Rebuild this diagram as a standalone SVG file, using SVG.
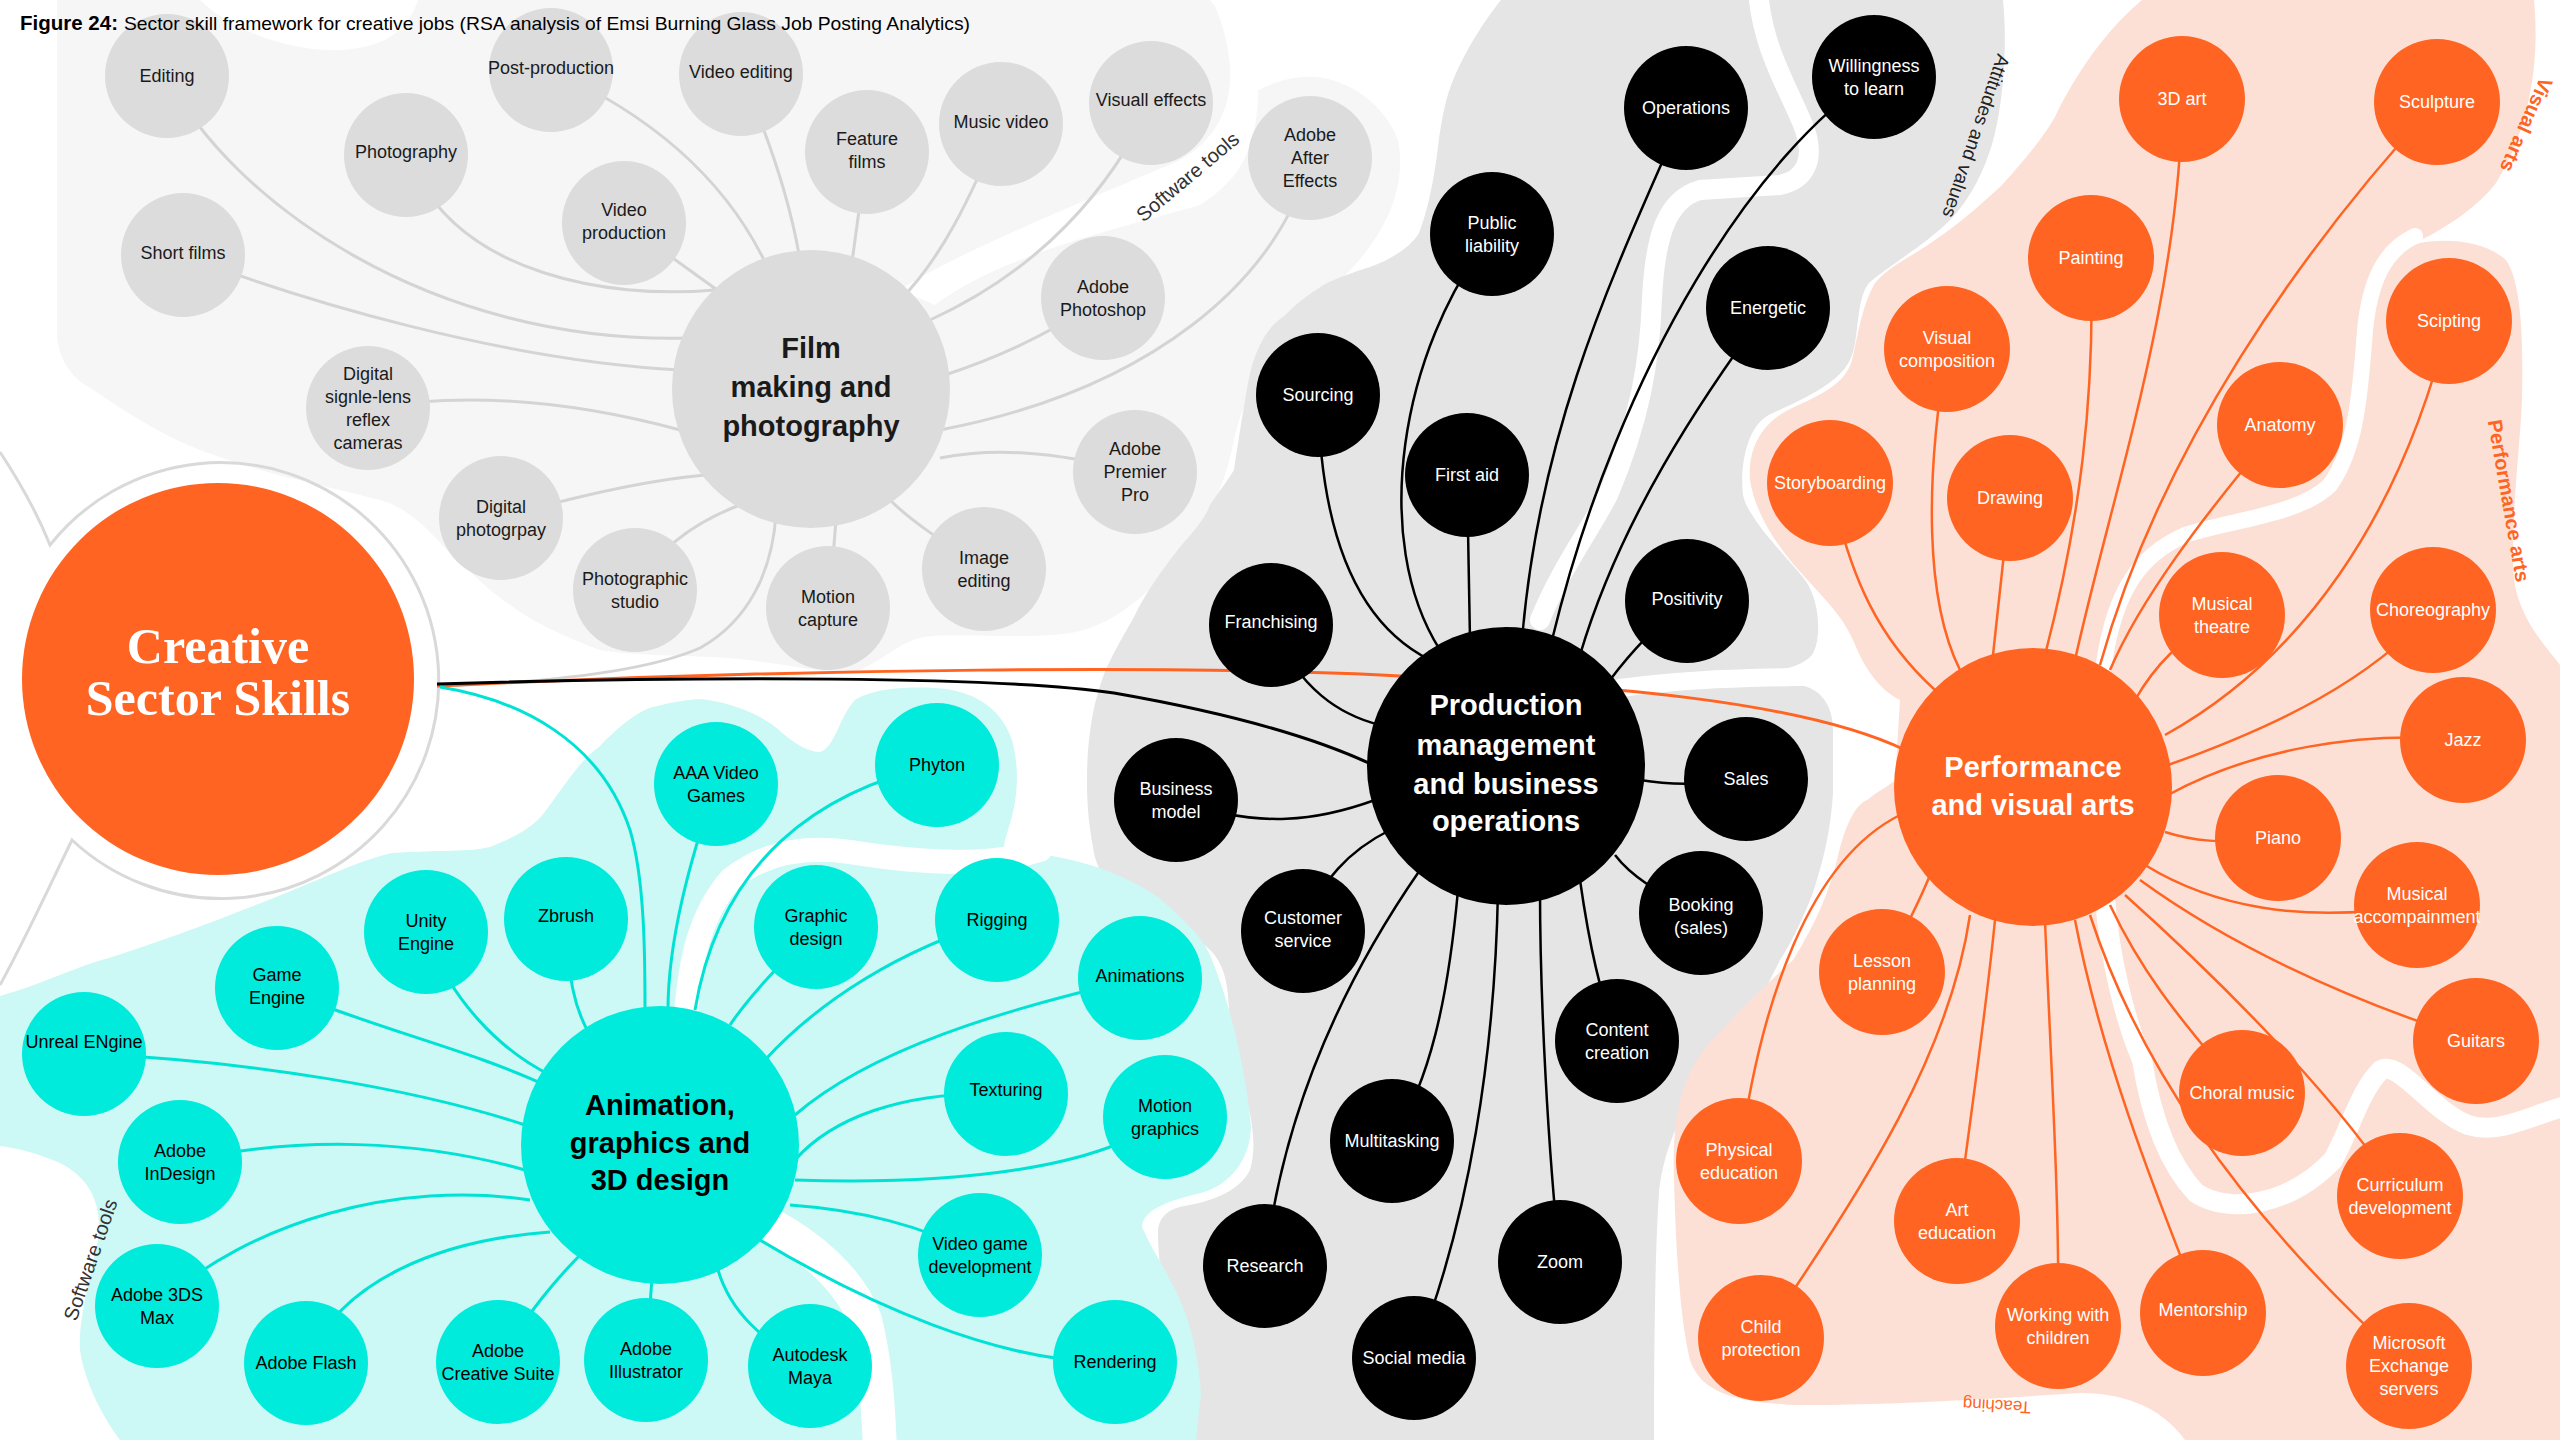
<svg xmlns="http://www.w3.org/2000/svg" width="2560" height="1440" viewBox="0 0 2560 1440">
<defs>
<style>
.t{font-family:"Liberation Sans",Arial,sans-serif;font-size:18px;text-anchor:middle}
.fn{fill:#dcdcdc}.ft{fill:#1a1a1a}
.pn{fill:#000}.pt{fill:#fff}
.vn{fill:#ff6422}.vt{fill:#fff}
.an{fill:#00ebdc}.at{fill:#000}
.hub{font-family:"Liberation Sans",Arial,sans-serif;font-size:29px;font-weight:bold;text-anchor:middle}
.lf{fill:none;stroke:#d4d4d4;stroke-width:3}
.lp{fill:none;stroke:#000;stroke-width:2.5}
.lv{fill:none;stroke:#ff6422;stroke-width:2.5}
.la{fill:none;stroke:#00e3d4;stroke-width:3}
.gap{fill:none;stroke:#fff;stroke-linecap:round}
.lab{font-family:"Liberation Sans",Arial,sans-serif}
</style>
</defs>
<rect width="2560" height="1440" fill="#fff"/>

<g id="backgrounds">
<path id="bg-film" fill="#f6f6f6" d="M57,0 L1210,0 C1232,25 1245,60 1245,100 C1262,85 1290,75 1316,77 C1350,80 1385,105 1398,140 C1405,175 1395,215 1365,253 C1335,290 1305,310 1289,333 C1260,365 1240,410 1234,440 C1226,480 1215,505 1195,535 C1165,580 1120,625 1071,633 C1020,640 960,632 924,637 C895,642 875,670 847,673 C810,672 770,660 713,657 C660,655 630,655 600,650 C560,635 530,620 513,607 C480,585 460,560 447,550 C420,520 400,505 380,500 C340,490 320,485 290,478 C230,462 190,448 163,433 C120,410 95,390 82,383 C65,370 57,350 57,333 Z"/>
<path fill="#fff" d="M200,0 C230,30 290,52 340,50 C390,48 410,25 418,0 Z"/>
<path fill="#fff" d="M900,290 C950,255 1100,195 1180,160 C1215,140 1232,110 1230,67 C1228,40 1220,15 1212,0 L1260,0 L1258,100 C1255,150 1240,180 1200,205 C1120,228 1000,255 935,305 Z"/>

<path id="bg-production" fill="#e5e5e5" d="M1501,0 L2003,0 C2008,50 2002,105 1995,133 C1985,175 1965,205 1950,220 C1925,245 1890,265 1869,283 C1855,300 1860,340 1850,360 C1838,385 1800,400 1767,416 C1745,430 1740,470 1743,495 C1748,520 1790,560 1805,580 C1820,600 1822,640 1812,655 C1800,668 1780,670 1760,672 L1800,685 C1825,690 1833,710 1833,730 L1833,793 C1830,840 1820,870 1813,893 C1800,925 1790,945 1780,960 C1765,990 1745,1030 1730,1060 C1715,1080 1695,1095 1680,1120 C1665,1150 1660,1180 1659,1193 C1655,1250 1654,1350 1654,1440 L1196,1440 C1193,1410 1192,1395 1191,1393 C1188,1370 1180,1343 1172,1320 C1162,1290 1158,1260 1158,1230 C1160,1212 1175,1207 1190,1205 C1215,1200 1240,1190 1250,1170 C1258,1145 1250,1110 1245,1093 C1238,1065 1230,1040 1229,1010 C1228,985 1225,965 1210,950 C1190,930 1160,920 1130,900 C1105,885 1095,865 1093,847 C1088,820 1087,800 1087,780 C1087,750 1090,730 1093,713 C1098,690 1105,670 1109,663 C1120,640 1130,625 1136,613 C1150,585 1170,560 1180,547 C1195,530 1205,518 1210,505 C1220,490 1228,480 1234,470 C1240,430 1245,400 1248,383 C1255,345 1270,325 1283,317 C1300,300 1315,290 1327,283 C1345,275 1360,270 1370,267 C1395,258 1412,245 1419,233 C1430,205 1435,170 1438,147 C1442,115 1447,95 1452,83 C1465,50 1485,20 1501,0 Z"/>
<path class="gap" stroke-width="20" d="M1758,-10 C1762,50 1790,90 1805,130 C1815,160 1805,180 1780,185 L1700,190 C1665,200 1655,240 1652,298 C1650,360 1640,420 1608,495 C1590,530 1560,570 1540,620"/>
<path class="gap" stroke-width="18" d="M1620,688 C1680,680 1720,678 1850,676"/>

<path id="bg-performance" fill="#fde0d5" d="M2142,0 L2534,0 C2540,60 2530,130 2496,183 C2475,210 2440,232 2410,245 C2440,238 2480,238 2506,260 C2523,285 2523,350 2522,400 C2520,450 2510,520 2514,580 C2520,620 2545,645 2560,665 L2560,1440 L2185,1440 C2160,1405 2120,1393 2080,1393 C2000,1398 1900,1405 1800,1405 C1730,1403 1700,1390 1690,1360 C1680,1320 1676,1250 1674,1180 C1672,1120 1680,1080 1706,1047 C1730,1020 1760,990 1793,960 C1815,925 1830,890 1837,860 C1845,825 1855,805 1867,800 C1880,790 1890,785 1895,780 L1900,700 C1880,690 1865,670 1853,640 C1840,610 1810,585 1790,560 C1770,535 1755,510 1750,480 C1748,450 1760,425 1788,410 C1820,395 1845,385 1852,360 C1858,335 1862,305 1875,283 C1890,265 1915,255 1935,240 C1965,220 1985,200 2000,187 C2025,160 2045,135 2055,117 C2070,85 2100,35 2142,0 Z"/>
<path class="gap" stroke-width="16" d="M2415,236 C2385,250 2370,280 2365,330 C2360,400 2355,450 2330,485 C2300,515 2230,520 2185,535 C2140,555 2115,590 2104,663 L2100,700"/>
<path class="gap" stroke-width="20" d="M2105,900 C2110,960 2125,1020 2142,1060 C2150,1110 2165,1160 2196,1193 C2230,1215 2290,1205 2333,1160 C2350,1130 2360,1090 2381,1070 C2400,1060 2430,1110 2468,1125 C2500,1135 2530,1115 2570,1105"/>

<path id="bg-animation" fill="#ccf8f5" d="M0,996 C40,985 80,965 109,958 C180,935 230,915 261,903 C320,880 360,860 392,853 C440,850 470,852 490,847 C520,835 535,825 544,813 C565,785 580,760 599,747 C620,725 640,710 653,707 C680,700 700,698 708,700 C740,705 765,718 779,730 C795,745 810,752 820,752 C835,748 840,715 855,700 C870,690 900,686 935,688 C970,690 1000,705 1012,740 C1020,770 1018,800 1008,830 C1005,840 1003,845 1005,850 C1060,855 1110,865 1158,897 C1190,925 1205,940 1212,960 C1228,1000 1245,1060 1251,1127 C1250,1160 1230,1185 1201,1193 C1170,1200 1142,1210 1142,1227 C1160,1270 1195,1300 1201,1393 L1196,1440 L120,1440 C105,1420 85,1385 80,1350 C78,1320 90,1280 98,1240 C103,1205 90,1178 60,1163 C35,1152 15,1148 0,1146 Z"/>
<path class="gap" stroke-width="24" d="M686,1015 C690,960 700,915 730,880 C760,855 800,845 850,852 C900,860 960,866 1010,858 L1040,850"/>
<path class="gap" stroke-width="34" d="M765,1222 C810,1245 850,1280 865,1320 C875,1360 878,1400 880,1450"/>

<path id="ring" fill="none" stroke="#d9d9d9" stroke-width="3" d="M0,452 C25,490 40,520 50,545 A218,218 0 1,1 72,840 C50,885 25,940 0,985"/>
</g>

<g id="connectors">
<g id="film-lines">
<path class="lf" d="M167,76 C230,200 430,345 690,338"/>
<path class="lf" d="M420,180 C470,270 600,300 715,290"/>
<path class="lf" d="M551,70 C640,110 720,170 765,262"/>
<path class="lf" d="M741,74 C770,140 790,200 800,260"/>
<path class="lf" d="M867,152 L852,262"/>
<path class="lf" d="M1001,124 C970,200 940,260 900,300"/>
<path class="lf" d="M1151,103 C1110,190 1040,270 930,320"/>
<path class="lf" d="M183,255 C300,300 500,360 680,370"/>
<path class="lf" d="M624,223 L720,292"/>
<path class="lf" d="M368,408 C450,395 550,395 680,430"/>
<path class="lf" d="M1310,158 C1280,280 1150,390 940,430"/>
<path class="lf" d="M1103,298 C1040,340 990,360 945,375"/>
<path class="lf" d="M1135,472 C1050,450 990,448 940,458"/>
<path class="lf" d="M984,569 C940,540 910,520 890,500"/>
<path class="lf" d="M829,607 L836,520"/>
<path class="lf" d="M635,589 C660,545 700,520 740,505"/>
<path class="lf" d="M500,518 C580,495 650,480 705,475"/>
<path class="lf" d="M437,686 C560,682 650,670 700,648 C750,620 772,570 776,515"/>
</g>
<g id="production-lines">
<path class="lp" d="M1686,108 C1620,260 1540,420 1522,640"/>
<path class="lp" d="M1874,77 C1760,150 1620,360 1552,640"/>
<path class="lp" d="M1492,234 C1400,350 1370,540 1440,650"/>
<path class="lp" d="M1768,308 C1700,400 1620,520 1580,655"/>
<path class="lp" d="M1318,395 C1320,520 1350,620 1430,660"/>
<path class="lp" d="M1467,475 L1470,640"/>
<path class="lp" d="M1271,625 C1300,690 1340,715 1380,725"/>
<path class="lp" d="M1687,601 C1650,630 1625,660 1610,680"/>
<path class="lp" d="M1746,779 C1700,785 1670,785 1640,780"/>
<path class="lp" d="M1176,800 C1260,830 1320,820 1375,800"/>
<path class="lp" d="M1303,931 C1320,880 1350,850 1390,830"/>
<path class="lp" d="M1701,913 C1660,895 1630,875 1615,855"/>
<path class="lp" d="M1617,1041 C1600,990 1590,950 1580,880"/>
<path class="lp" d="M1392,1141 C1430,1080 1448,1000 1458,890"/>
<path class="lp" d="M1265,1266 C1280,1130 1330,1000 1420,870"/>
<path class="lp" d="M1560,1262 C1548,1150 1540,1000 1540,890"/>
<path class="lp" d="M1414,1358 C1470,1220 1495,1050 1498,890"/>
</g>
<g id="performance-lines">
<path class="lv" d="M2182,99 C2180,300 2110,500 2075,660"/>
<path class="lv" d="M2091,258 C2095,400 2080,520 2045,655"/>
<path class="lv" d="M2437,102 C2300,250 2160,450 2100,665"/>
<path class="lv" d="M1947,349 C1925,480 1925,600 1960,670"/>
<path class="lv" d="M1830,483 C1850,580 1880,640 1935,690"/>
<path class="lv" d="M2010,498 L1993,655"/>
<path class="lv" d="M2280,425 C2200,520 2140,600 2110,670"/>
<path class="lv" d="M2449,321 C2400,520 2300,660 2165,735"/>
<path class="lv" d="M2222,615 C2180,640 2155,665 2135,700"/>
<path class="lv" d="M2433,610 C2370,680 2280,725 2168,765"/>
<path class="lv" d="M2463,740 C2360,730 2250,750 2168,795"/>
<path class="lv" d="M2278,838 C2220,845 2190,840 2165,832"/>
<path class="lv" d="M2417,905 C2300,925 2210,905 2145,865"/>
<path class="lv" d="M2476,1041 C2380,1010 2250,960 2140,880"/>
<path class="lv" d="M2242,1093 C2200,1040 2150,990 2110,905"/>
<path class="lv" d="M2400,1196 C2340,1100 2220,980 2125,895"/>
<path class="lv" d="M2409,1366 C2280,1250 2150,1100 2090,915"/>
<path class="lv" d="M2203,1313 C2150,1180 2100,1050 2075,920"/>
<path class="lv" d="M2058,1326 C2060,1200 2050,1050 2045,920"/>
<path class="lv" d="M1957,1221 C1970,1120 1985,1020 1995,920"/>
<path class="lv" d="M1761,1338 C1870,1180 1950,1050 1970,915"/>
<path class="lv" d="M1739,1161 C1760,1000 1810,860 1900,815"/>
<path class="lv" d="M1882,972 C1905,930 1920,900 1930,875"/>
</g>
<g id="animation-lines">
<path class="la" d="M716,784 C690,860 668,940 668,1010"/>
<path class="la" d="M937,765 C820,790 720,860 695,1010"/>
<path class="la" d="M426,932 C450,1000 500,1050 550,1075"/>
<path class="la" d="M566,919 C568,980 575,1010 590,1035"/>
<path class="la" d="M816,927 C780,965 750,995 730,1025"/>
<path class="la" d="M997,920 C900,950 820,1000 765,1060"/>
<path class="la" d="M277,988 C380,1030 470,1050 545,1085"/>
<path class="la" d="M1140,978 C1000,1010 870,1050 795,1115"/>
<path class="la" d="M84,1054 C250,1060 420,1090 525,1125"/>
<path class="la" d="M1006,1094 C900,1090 830,1120 795,1160"/>
<path class="la" d="M1165,1117 C1100,1170 950,1185 795,1180"/>
<path class="la" d="M180,1162 C300,1135 420,1140 525,1170"/>
<path class="la" d="M157,1306 C250,1220 400,1180 530,1200"/>
<path class="la" d="M980,1255 C920,1225 860,1210 790,1205"/>
<path class="la" d="M306,1363 C340,1280 440,1240 550,1232"/>
<path class="la" d="M498,1362 C530,1310 555,1280 585,1250"/>
<path class="la" d="M646,1360 L652,1278"/>
<path class="la" d="M810,1366 C760,1340 730,1310 718,1270"/>
<path class="la" d="M1115,1362 C1000,1365 860,1300 760,1240"/>
</g>
<g id="main-lines">
<path fill="none" stroke="#ff6422" stroke-width="3" d="M437,686 C800,668 1200,665 1400,676 C1600,685 1800,700 1905,750"/>
<path fill="none" stroke="#000" stroke-width="3" d="M437,684 C700,676 1000,676 1114,693 C1200,708 1300,730 1375,766"/>
<path fill="none" stroke="#00e3d4" stroke-width="3" d="M440,687 C520,700 600,740 630,830 C645,880 645,960 645,1010"/>
</g>
</g>

<g id="creative-sector-skills">
<circle cx="218" cy="679" r="196" fill="#ff6422"/>
<text x="218" y="663" font-family="'Liberation Serif','Times New Roman',serif" font-size="50" font-weight="bold" fill="#fff" text-anchor="middle">Creative</text>
<text x="218" y="715" font-family="'Liberation Serif','Times New Roman',serif" font-size="50" font-weight="bold" fill="#fff" text-anchor="middle">Sector Skills</text>
</g>

<g id="film-nodes">
<g id="film-hub"><circle cx="811" cy="389" r="139" class="fn"/><text class="hub ft"><tspan x="811" y="358">Film</tspan><tspan x="811" y="397">making and</tspan><tspan x="811" y="436">photography</tspan></text></g>
<g id="editing"><circle cx="167" cy="76" r="62" class="fn"/><text class="t ft" x="167" y="82">Editing</text></g>
<g id="post-production"><circle cx="551" cy="70" r="62" class="fn"/><text class="t ft" x="551" y="74">Post-production</text></g>
<g id="video-editing"><circle cx="741" cy="74" r="62" class="fn"/><text class="t ft" x="741" y="78">Video editing</text></g>
<g id="photography"><circle cx="406" cy="155" r="62" class="fn"/><text class="t ft" x="406" y="158">Photography</text></g>
<g id="feature-films"><circle cx="867" cy="152" r="62" class="fn"/><text class="t ft"><tspan x="867" y="145">Feature</tspan><tspan x="867" y="168">films</tspan></text></g>
<g id="music-video"><circle cx="1001" cy="124" r="62" class="fn"/><text class="t ft" x="1001" y="128">Music video</text></g>
<g id="visuall-effects"><circle cx="1151" cy="103" r="62" class="fn"/><text class="t ft" x="1151" y="106">Visuall effects</text></g>
<g id="short-films"><circle cx="183" cy="255" r="62" class="fn"/><text class="t ft" x="183" y="259">Short films</text></g>
<g id="video-production"><circle cx="624" cy="223" r="62" class="fn"/><text class="t ft"><tspan x="624" y="216">Video</tspan><tspan x="624" y="239">production</tspan></text></g>
<g id="adobe-after-effects"><circle cx="1310" cy="158" r="62" class="fn"/><text class="t ft"><tspan x="1310" y="141">Adobe</tspan><tspan x="1310" y="164">After</tspan><tspan x="1310" y="187">Effects</tspan></text></g>
<g id="adobe-photoshop"><circle cx="1103" cy="298" r="62" class="fn"/><text class="t ft"><tspan x="1103" y="293">Adobe</tspan><tspan x="1103" y="316">Photoshop</tspan></text></g>
<g id="dslr"><circle cx="368" cy="408" r="62" class="fn"/><text class="t ft"><tspan x="368" y="380">Digital</tspan><tspan x="368" y="403">signle-lens</tspan><tspan x="368" y="426">reflex</tspan><tspan x="368" y="449">cameras</tspan></text></g>
<g id="adobe-premier-pro"><circle cx="1135" cy="472" r="62" class="fn"/><text class="t ft"><tspan x="1135" y="455">Adobe</tspan><tspan x="1135" y="478">Premier</tspan><tspan x="1135" y="501">Pro</tspan></text></g>
<g id="digital-photography"><circle cx="501" cy="518" r="62" class="fn"/><text class="t ft"><tspan x="501" y="513">Digital</tspan><tspan x="501" y="536">photogrpay</tspan></text></g>
<g id="photographic-studio"><circle cx="635" cy="590" r="62" class="fn"/><text class="t ft"><tspan x="635" y="585">Photographic</tspan><tspan x="635" y="608">studio</tspan></text></g>
<g id="motion-capture"><circle cx="828" cy="608" r="62" class="fn"/><text class="t ft"><tspan x="828" y="603">Motion</tspan><tspan x="828" y="626">capture</tspan></text></g>
<g id="image-editing"><circle cx="984" cy="569" r="62" class="fn"/><text class="t ft"><tspan x="984" y="564">Image</tspan><tspan x="984" y="587">editing</tspan></text></g>
</g>

<g id="production-nodes">
<g id="production-hub"><circle cx="1506" cy="766" r="139" class="pn"/><text class="hub pt"><tspan x="1506" y="715">Production</tspan><tspan x="1506" y="755">management</tspan><tspan x="1506" y="794">and business</tspan><tspan x="1506" y="831">operations</tspan></text></g>
<g id="operations"><circle cx="1686" cy="108" r="62" class="pn"/><text class="t pt" x="1686" y="114">Operations</text></g>
<g id="willingness"><circle cx="1874" cy="77" r="62" class="pn"/><text class="t pt"><tspan x="1874" y="72">Willingness</tspan><tspan x="1874" y="95">to learn</tspan></text></g>
<g id="public-liability"><circle cx="1492" cy="234" r="62" class="pn"/><text class="t pt"><tspan x="1492" y="229">Public</tspan><tspan x="1492" y="252">liability</tspan></text></g>
<g id="energetic"><circle cx="1768" cy="308" r="62" class="pn"/><text class="t pt" x="1768" y="314">Energetic</text></g>
<g id="sourcing"><circle cx="1318" cy="395" r="62" class="pn"/><text class="t pt" x="1318" y="401">Sourcing</text></g>
<g id="first-aid"><circle cx="1467" cy="475" r="62" class="pn"/><text class="t pt" x="1467" y="481">First aid</text></g>
<g id="franchising"><circle cx="1271" cy="625" r="62" class="pn"/><text class="t pt" x="1271" y="628">Franchising</text></g>
<g id="positivity"><circle cx="1687" cy="601" r="62" class="pn"/><text class="t pt" x="1687" y="605">Positivity</text></g>
<g id="business-model"><circle cx="1176" cy="800" r="62" class="pn"/><text class="t pt"><tspan x="1176" y="795">Business</tspan><tspan x="1176" y="818">model</tspan></text></g>
<g id="sales"><circle cx="1746" cy="779" r="62" class="pn"/><text class="t pt" x="1746" y="785">Sales</text></g>
<g id="customer-service"><circle cx="1303" cy="931" r="62" class="pn"/><text class="t pt"><tspan x="1303" y="924">Customer</tspan><tspan x="1303" y="947">service</tspan></text></g>
<g id="booking"><circle cx="1701" cy="913" r="62" class="pn"/><text class="t pt"><tspan x="1701" y="911">Booking</tspan><tspan x="1701" y="934">(sales)</tspan></text></g>
<g id="content-creation"><circle cx="1617" cy="1041" r="62" class="pn"/><text class="t pt"><tspan x="1617" y="1036">Content</tspan><tspan x="1617" y="1059">creation</tspan></text></g>
<g id="multitasking"><circle cx="1392" cy="1141" r="62" class="pn"/><text class="t pt" x="1392" y="1147">Multitasking</text></g>
<g id="research"><circle cx="1265" cy="1266" r="62" class="pn"/><text class="t pt" x="1265" y="1272">Research</text></g>
<g id="zoom"><circle cx="1560" cy="1262" r="62" class="pn"/><text class="t pt" x="1560" y="1268">Zoom</text></g>
<g id="social-media"><circle cx="1414" cy="1358" r="62" class="pn"/><text class="t pt" x="1414" y="1364">Social media</text></g>
</g>

<g id="performance-nodes">
<g id="performance-hub"><circle cx="2033" cy="787" r="139" class="vn"/><text class="hub vt"><tspan x="2033" y="777">Performance</tspan><tspan x="2033" y="815">and visual arts</tspan></text></g>
<g id="art-3d"><circle cx="2182" cy="99" r="63" class="vn"/><text class="t vt" x="2182" y="105">3D art</text></g>
<g id="sculpture"><circle cx="2437" cy="102" r="63" class="vn"/><text class="t vt" x="2437" y="108">Sculpture</text></g>
<g id="painting"><circle cx="2091" cy="258" r="63" class="vn"/><text class="t vt" x="2091" y="264">Painting</text></g>
<g id="visual-composition"><circle cx="1947" cy="349" r="63" class="vn"/><text class="t vt"><tspan x="1947" y="344">Visual</tspan><tspan x="1947" y="367">composition</tspan></text></g>
<g id="scipting"><circle cx="2449" cy="321" r="63" class="vn"/><text class="t vt" x="2449" y="327">Scipting</text></g>
<g id="anatomy"><circle cx="2280" cy="425" r="63" class="vn"/><text class="t vt" x="2280" y="431">Anatomy</text></g>
<g id="storyboarding"><circle cx="1830" cy="483" r="63" class="vn"/><text class="t vt" x="1830" y="489">Storyboarding</text></g>
<g id="drawing"><circle cx="2010" cy="498" r="63" class="vn"/><text class="t vt" x="2010" y="504">Drawing</text></g>
<g id="musical-theatre"><circle cx="2222" cy="615" r="63" class="vn"/><text class="t vt"><tspan x="2222" y="610">Musical</tspan><tspan x="2222" y="633">theatre</tspan></text></g>
<g id="choreography"><circle cx="2433" cy="610" r="63" class="vn"/><text class="t vt" x="2433" y="616">Choreography</text></g>
<g id="jazz"><circle cx="2463" cy="740" r="63" class="vn"/><text class="t vt" x="2463" y="746">Jazz</text></g>
<g id="piano"><circle cx="2278" cy="838" r="63" class="vn"/><text class="t vt" x="2278" y="844">Piano</text></g>
<g id="musical-accompainment"><circle cx="2417" cy="905" r="63" class="vn"/><text class="t vt"><tspan x="2417" y="900">Musical</tspan><tspan x="2417" y="923">accompainment</tspan></text></g>
<g id="lesson-planning"><circle cx="1882" cy="972" r="63" class="vn"/><text class="t vt"><tspan x="1882" y="967">Lesson</tspan><tspan x="1882" y="990">planning</tspan></text></g>
<g id="guitars"><circle cx="2476" cy="1041" r="63" class="vn"/><text class="t vt" x="2476" y="1047">Guitars</text></g>
<g id="choral-music"><circle cx="2242" cy="1093" r="63" class="vn"/><text class="t vt" x="2242" y="1099">Choral music</text></g>
<g id="physical-education"><circle cx="1739" cy="1161" r="63" class="vn"/><text class="t vt"><tspan x="1739" y="1156">Physical</tspan><tspan x="1739" y="1179">education</tspan></text></g>
<g id="curriculum-development"><circle cx="2400" cy="1196" r="63" class="vn"/><text class="t vt"><tspan x="2400" y="1191">Curriculum</tspan><tspan x="2400" y="1214">development</tspan></text></g>
<g id="art-education"><circle cx="1957" cy="1221" r="63" class="vn"/><text class="t vt"><tspan x="1957" y="1216">Art</tspan><tspan x="1957" y="1239">education</tspan></text></g>
<g id="child-protection"><circle cx="1761" cy="1338" r="63" class="vn"/><text class="t vt"><tspan x="1761" y="1333">Child</tspan><tspan x="1761" y="1356">protection</tspan></text></g>
<g id="working-with-children"><circle cx="2058" cy="1326" r="63" class="vn"/><text class="t vt"><tspan x="2058" y="1321">Working with</tspan><tspan x="2058" y="1344">children</tspan></text></g>
<g id="mentorship"><circle cx="2203" cy="1313" r="63" class="vn"/><text class="t vt" x="2203" y="1316">Mentorship</text></g>
<g id="microsoft-exchange"><circle cx="2409" cy="1366" r="63" class="vn"/><text class="t vt"><tspan x="2409" y="1349">Microsoft</tspan><tspan x="2409" y="1372">Exchange</tspan><tspan x="2409" y="1395">servers</tspan></text></g>
</g>

<g id="animation-nodes">
<g id="animation-hub"><circle cx="660" cy="1145" r="139" class="an"/><text class="hub at"><tspan x="660" y="1115">Animation,</tspan><tspan x="660" y="1153">graphics and</tspan><tspan x="660" y="1190">3D design</tspan></text></g>
<g id="aaa-video-games"><circle cx="716" cy="784" r="62" class="an"/><text class="t at"><tspan x="716" y="779">AAA Video</tspan><tspan x="716" y="802">Games</tspan></text></g>
<g id="phyton"><circle cx="937" cy="765" r="62" class="an"/><text class="t at" x="937" y="771">Phyton</text></g>
<g id="unity-engine"><circle cx="426" cy="932" r="62" class="an"/><text class="t at"><tspan x="426" y="927">Unity</tspan><tspan x="426" y="950">Engine</tspan></text></g>
<g id="zbrush"><circle cx="566" cy="919" r="62" class="an"/><text class="t at" x="566" y="922">Zbrush</text></g>
<g id="graphic-design"><circle cx="816" cy="927" r="62" class="an"/><text class="t at"><tspan x="816" y="922">Graphic</tspan><tspan x="816" y="945">design</tspan></text></g>
<g id="rigging"><circle cx="997" cy="920" r="62" class="an"/><text class="t at" x="997" y="926">Rigging</text></g>
<g id="game-engine"><circle cx="277" cy="988" r="62" class="an"/><text class="t at"><tspan x="277" y="981">Game</tspan><tspan x="277" y="1004">Engine</tspan></text></g>
<g id="animations"><circle cx="1140" cy="978" r="62" class="an"/><text class="t at" x="1140" y="982">Animations</text></g>
<g id="unreal-engine"><circle cx="84" cy="1054" r="62" class="an"/><text class="t at" x="84" y="1048">Unreal ENgine</text></g>
<g id="texturing"><circle cx="1006" cy="1094" r="62" class="an"/><text class="t at" x="1006" y="1096">Texturing</text></g>
<g id="motion-graphics"><circle cx="1165" cy="1117" r="62" class="an"/><text class="t at"><tspan x="1165" y="1112">Motion</tspan><tspan x="1165" y="1135">graphics</tspan></text></g>
<g id="adobe-indesign"><circle cx="180" cy="1162" r="62" class="an"/><text class="t at"><tspan x="180" y="1157">Adobe</tspan><tspan x="180" y="1180">InDesign</tspan></text></g>
<g id="adobe-3ds-max"><circle cx="157" cy="1306" r="62" class="an"/><text class="t at"><tspan x="157" y="1301">Adobe 3DS</tspan><tspan x="157" y="1324">Max</tspan></text></g>
<g id="video-game-development"><circle cx="980" cy="1255" r="62" class="an"/><text class="t at"><tspan x="980" y="1250">Video game</tspan><tspan x="980" y="1273">development</tspan></text></g>
<g id="adobe-flash"><circle cx="306" cy="1363" r="62" class="an"/><text class="t at" x="306" y="1369">Adobe Flash</text></g>
<g id="adobe-creative-suite"><circle cx="498" cy="1362" r="62" class="an"/><text class="t at"><tspan x="498" y="1357">Adobe</tspan><tspan x="498" y="1380">Creative Suite</tspan></text></g>
<g id="adobe-illustrator"><circle cx="646" cy="1360" r="62" class="an"/><text class="t at"><tspan x="646" y="1355">Adobe</tspan><tspan x="646" y="1378">Illustrator</tspan></text></g>
<g id="autodesk-maya"><circle cx="810" cy="1366" r="62" class="an"/><text class="t at"><tspan x="810" y="1361">Autodesk</tspan><tspan x="810" y="1384">Maya</tspan></text></g>
<g id="rendering"><circle cx="1115" cy="1362" r="62" class="an"/><text class="t at" x="1115" y="1368">Rendering</text></g>
</g>

<g id="labels">
<text class="lab" x="20" y="30" font-size="20" font-weight="bold" fill="#000" textLength="98" lengthAdjust="spacingAndGlyphs">Figure 24:</text>
<text class="lab" x="124" y="30" font-size="19" fill="#000" textLength="846" lengthAdjust="spacingAndGlyphs">Sector skill framework for creative jobs (RSA analysis of Emsi Burning Glass Job Posting Analytics)</text>
<text class="lab" font-size="20" fill="#333" text-anchor="middle" transform="translate(1192,182) rotate(-40)">Software tools</text>
<text class="lab" font-size="19" fill="#222" text-anchor="middle" transform="translate(1970,134) rotate(109)">Attitudes and values</text>
<text class="lab" font-size="20" font-weight="bold" fill="#ff6422" text-anchor="middle" transform="translate(2520,122) rotate(114)">Visual arts</text>
<text class="lab" font-size="20" font-weight="bold" fill="#ff6422" text-anchor="middle" transform="translate(2502,502) rotate(80)">Performance arts</text>
<text class="lab" font-size="20" fill="#333" text-anchor="middle" transform="translate(97,1262) rotate(-71)">Software tools</text>
<text class="lab" font-size="17" fill="#ff6422" text-anchor="middle" transform="translate(1997,1400) rotate(183)">Teaching</text>
</g>
</svg>
